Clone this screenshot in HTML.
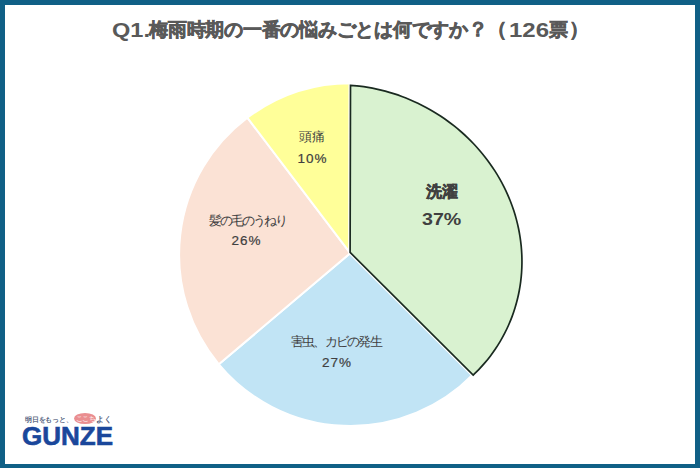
<!DOCTYPE html>
<html lang="ja"><head><meta charset="utf-8">
<style>
html,body{margin:0;padding:0;}
body{width:700px;height:468px;overflow:hidden;background:#106086;position:relative;font-family:"Liberation Sans",sans-serif;}
#frame{position:absolute;left:5px;top:5px;width:690px;height:459px;background:#fff;}
.t{position:absolute;white-space:nowrap;line-height:1;color:#404040;}
svg{position:absolute;left:0;top:0;}
</style></head><body>
<div id="frame"></div>
<svg width="700" height="468" viewBox="0 0 700 468">
<path d="M350.2,253.2 L472.75,374.74 A171.4,171.4 0 0 1 218.82,364.31 Z" fill="#C1E4F5" stroke="#fff" stroke-width="2" stroke-linejoin="round"/>
<path d="M350.2,253.2 L218.82,364.31 A171.4,171.4 0 0 1 247.35,117.71 Z" fill="#FBE2D5" stroke="#fff" stroke-width="2" stroke-linejoin="round"/>
<path d="M350.2,253.2 L247.35,117.71 A171.4,171.4 0 0 1 350.50,83.20 Z" fill="#FFFF99" stroke="#fff" stroke-width="2" stroke-linejoin="round"/>
<path d="M350.1,252.4 L350.5,85.33 C353.44,85.61 356.40,85.82 359.33,86.17 C362.26,86.52 365.17,86.94 368.07,87.43 C370.97,87.92 373.85,88.48 376.71,89.11 C379.57,89.73 382.42,90.42 385.24,91.18 C388.06,91.94 390.86,92.77 393.63,93.65 C396.40,94.53 399.15,95.48 401.87,96.49 C404.59,97.50 407.29,98.57 409.96,99.70 C412.63,100.83 415.26,102.03 417.87,103.28 C420.48,104.53 423.06,105.84 425.61,107.20 C428.16,108.56 430.66,109.98 433.14,111.46 C435.62,112.93 438.06,114.47 440.47,116.05 C442.88,117.63 445.25,119.28 447.58,120.97 C449.91,122.66 452.22,124.41 454.47,126.21 C456.72,128.01 458.93,129.86 461.10,131.76 C463.27,133.66 465.41,135.61 467.49,137.61 C469.57,139.61 471.61,141.66 473.60,143.76 C475.59,145.86 477.53,148.01 479.42,150.20 C481.31,152.39 483.16,154.64 484.95,156.92 C486.74,159.20 488.48,161.53 490.16,163.90 C491.84,166.27 493.47,168.69 495.04,171.15 C496.61,173.61 498.12,176.11 499.57,178.65 C501.02,181.19 502.41,183.77 503.73,186.38 C505.05,188.99 506.32,191.65 507.51,194.33 C508.70,197.02 509.82,199.74 510.88,202.49 C511.94,205.24 512.93,208.02 513.84,210.83 C514.75,213.64 515.60,216.49 516.36,219.35 C517.12,222.21 517.82,225.09 518.43,228.00 C519.04,230.91 519.57,233.84 520.03,236.78 C520.49,239.72 520.87,242.69 521.16,245.66 C521.45,248.63 521.67,251.61 521.80,254.60 C521.93,257.59 521.98,260.58 521.94,263.58 C521.90,266.58 521.78,269.58 521.57,272.58 C521.36,275.58 521.07,278.58 520.69,281.56 C520.31,284.54 519.85,287.52 519.30,290.48 C518.75,293.44 518.11,296.39 517.39,299.32 C516.67,302.25 515.86,305.16 514.97,308.04 C514.08,310.92 513.11,313.78 512.05,316.61 C510.99,319.44 509.85,322.24 508.63,325.00 C507.41,327.76 506.10,330.50 504.72,333.18 C503.34,335.87 501.88,338.51 500.35,341.11 C498.82,343.71 497.20,346.27 495.52,348.78 C493.84,351.28 492.07,353.74 490.25,356.14 C488.43,358.54 486.53,360.88 484.57,363.17 C482.61,365.46 480.40,367.87 478.50,369.86 C476.60,371.86 474.95,373.38 473.17,375.14 Z" fill="none" stroke="#fff" stroke-width="4" stroke-linejoin="round"/>
<path d="M350.1,252.4 L350.5,85.33 C353.44,85.61 356.40,85.82 359.33,86.17 C362.26,86.52 365.17,86.94 368.07,87.43 C370.97,87.92 373.85,88.48 376.71,89.11 C379.57,89.73 382.42,90.42 385.24,91.18 C388.06,91.94 390.86,92.77 393.63,93.65 C396.40,94.53 399.15,95.48 401.87,96.49 C404.59,97.50 407.29,98.57 409.96,99.70 C412.63,100.83 415.26,102.03 417.87,103.28 C420.48,104.53 423.06,105.84 425.61,107.20 C428.16,108.56 430.66,109.98 433.14,111.46 C435.62,112.93 438.06,114.47 440.47,116.05 C442.88,117.63 445.25,119.28 447.58,120.97 C449.91,122.66 452.22,124.41 454.47,126.21 C456.72,128.01 458.93,129.86 461.10,131.76 C463.27,133.66 465.41,135.61 467.49,137.61 C469.57,139.61 471.61,141.66 473.60,143.76 C475.59,145.86 477.53,148.01 479.42,150.20 C481.31,152.39 483.16,154.64 484.95,156.92 C486.74,159.20 488.48,161.53 490.16,163.90 C491.84,166.27 493.47,168.69 495.04,171.15 C496.61,173.61 498.12,176.11 499.57,178.65 C501.02,181.19 502.41,183.77 503.73,186.38 C505.05,188.99 506.32,191.65 507.51,194.33 C508.70,197.02 509.82,199.74 510.88,202.49 C511.94,205.24 512.93,208.02 513.84,210.83 C514.75,213.64 515.60,216.49 516.36,219.35 C517.12,222.21 517.82,225.09 518.43,228.00 C519.04,230.91 519.57,233.84 520.03,236.78 C520.49,239.72 520.87,242.69 521.16,245.66 C521.45,248.63 521.67,251.61 521.80,254.60 C521.93,257.59 521.98,260.58 521.94,263.58 C521.90,266.58 521.78,269.58 521.57,272.58 C521.36,275.58 521.07,278.58 520.69,281.56 C520.31,284.54 519.85,287.52 519.30,290.48 C518.75,293.44 518.11,296.39 517.39,299.32 C516.67,302.25 515.86,305.16 514.97,308.04 C514.08,310.92 513.11,313.78 512.05,316.61 C510.99,319.44 509.85,322.24 508.63,325.00 C507.41,327.76 506.10,330.50 504.72,333.18 C503.34,335.87 501.88,338.51 500.35,341.11 C498.82,343.71 497.20,346.27 495.52,348.78 C493.84,351.28 492.07,353.74 490.25,356.14 C488.43,358.54 486.53,360.88 484.57,363.17 C482.61,365.46 480.40,367.87 478.50,369.86 C476.60,371.86 474.95,373.38 473.17,375.14 Z" fill="#D9F2D0" stroke="#1A2A20" stroke-width="1.7" stroke-linejoin="miter"/>
</svg>
<div class="t" id="m_q" style="left:112px;top:20px;font-size:20px;font-weight:bold;color:#595959;transform:scaleX(1.18);transform-origin:0 0;">Q1.</div>
<div class="t" id="m_run" style="left:149px;top:20px;font-size:19px;font-weight:bold;color:#595959;letter-spacing:-0.25px;-webkit-text-stroke:0.55px #595959;">梅雨時期の一番の悩みごとは何ですか</div>
<div class="t" id="m_qm" style="left:468px;top:20px;font-size:19.5px;font-weight:bold;color:#595959;-webkit-text-stroke:0.55px #595959;">？</div>
<div class="t" id="m_lp" style="left:487px;top:19.5px;font-size:19.5px;font-weight:bold;color:#595959;-webkit-text-stroke:0.55px #595959;">（</div>
<div class="t" id="m_num" style="left:508.5px;top:19.5px;font-size:20px;font-weight:bold;color:#595959;transform:scaleX(1.2);transform-origin:0 0;">126</div>
<div class="t" id="m_hyo" style="left:549px;top:20px;font-size:19px;font-weight:bold;color:#595959;-webkit-text-stroke:0.55px #595959;">票</div>
<div class="t" id="m_rp" style="left:569px;top:19.5px;font-size:19.5px;font-weight:bold;color:#595959;-webkit-text-stroke:0.55px #595959;">）</div>
<div class="t" id="m_l1" style="left:298.5px;top:130.5px;font-size:12.5px;letter-spacing:0.3px;">頭痛</div>
<div class="t" id="m_p1" style="left:297.5px;top:151.5px;font-size:13.5px;letter-spacing:1px;-webkit-text-stroke:0.2px #404040;">10%</div>
<div class="t" id="m_l2" style="left:425.5px;top:183.5px;font-size:16px;font-weight:bold;-webkit-text-stroke:0.4px #404040;">洗濯</div>
<div class="t" id="m_p2" style="left:421.5px;top:210.5px;font-size:16.5px;font-weight:bold;transform:scaleX(1.19);transform-origin:0 0;">37%</div>
<div class="t" id="m_l3" style="left:209px;top:214.5px;font-size:12.5px;letter-spacing:-1.98px;">髪の毛のうねり</div>
<div class="t" id="m_p3" style="left:231.5px;top:234px;font-size:13.5px;letter-spacing:1px;-webkit-text-stroke:0.2px #404040;">26%</div>
<div class="t" id="m_l4" style="left:291px;top:336px;font-size:12.5px;letter-spacing:-1.76px;">害虫、カビの発生</div>
<div class="t" id="m_p4" style="left:322px;top:356px;font-size:13.5px;letter-spacing:1px;-webkit-text-stroke:0.2px #404040;">27%</div>

<div id="logo">
<div style="position:absolute;left:73.5px;top:413.2px;width:22.5px;height:11px;border-radius:50%;background:#EA8E90;"></div>
<div class="t" id="m_tag1" style="left:25px;top:415.5px;font-size:7.2px;color:#3E4E70;letter-spacing:-0.25px;-webkit-text-stroke:0.15px #3E4E70;">明日をもっと、</div>
<div class="t" id="m_tag2" style="left:75.5px;top:415.5px;font-size:6.5px;color:#fff;letter-spacing:-0.3px;">ここち</div>
<div class="t" id="m_tag3" style="left:96px;top:415.5px;font-size:7.6px;color:#3E4E70;-webkit-text-stroke:0.15px #3E4E70;">よく</div>
<div class="t" id="m_gunze" style="left:21.5px;top:424px;font-size:25.5px;transform:scaleX(1.02);transform-origin:0 0;font-weight:bold;color:#1A479B;-webkit-text-stroke:0.6px #1A479B;">GUNZE</div>
</div>
</body></html>
